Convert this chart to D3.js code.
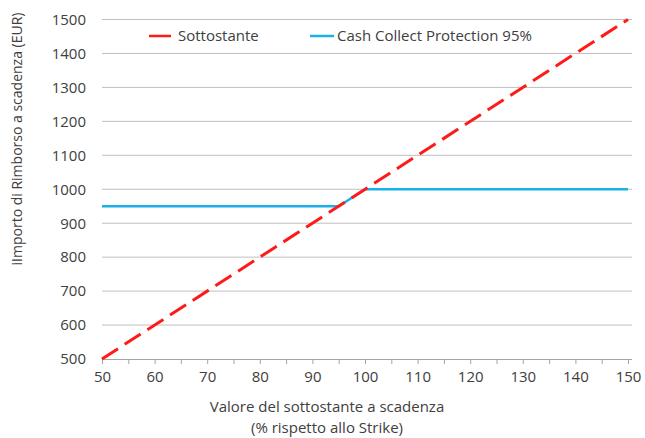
<!DOCTYPE html>
<html>
<head>
<meta charset="utf-8">
<script src="https://cdn.jsdelivr.net/npm/d3@7"></script>
<style>
  body { margin: 0; background: #fff; }
  svg text { font-family: "Open Sans", sans-serif; fill: #404040; }
</style>
</head>
<body>
<svg id="chart" width="645" height="438"></svg>
<script>
// data
var sottostanteX = [50, 150];
var sottostanteY = [500, 1500];
var cashCollectX = [50, 95, 100, 150];
var cashCollectY = [950, 950, 1000, 1000];
var xTicks = [50, 60, 70, 80, 90, 100, 110, 120, 130, 140, 150];
var xMinorTicks = [55, 65, 75, 85, 95, 105, 115, 125, 135, 145];
var yTicks = [500, 600, 700, 800, 900, 1000, 1100, 1200, 1300, 1400, 1500];
var seriesNames = ["Sottostante", "Cash Collect Protection 95%"];

var svg = d3.select("#chart");
var x = d3.scaleLinear().domain([50, 150]).range([102, 628]);
var y = d3.scaleLinear().domain([500, 1500]).range([359, 19.5]);

// gridlines
svg.append("g")
    .selectAll("line")
    .data(yTicks.slice(1))
    .enter().append("line")
    .attr("x1", x(50))
    .attr("x2", x(150) + 4)
    .attr("y1", function (d) { return y(d); })
    .attr("y2", function (d) { return y(d); })
    .attr("stroke", "#bfbfbf")
    .attr("stroke-width", 1);

// x axis
var xAxis = svg.append("g")
    .attr("transform", "translate(0," + y(500) + ")")
    .call(d3.axisBottom(x).tickValues(xTicks.concat(xMinorTicks)).tickSize(5).tickFormat(function (d) {
        return xTicks.indexOf(d) >= 0 ? d : "";
    }));
xAxis.select(".domain").attr("stroke", "#a6a6a6").attr("d", "M" + x(50) + ",0.5H" + (x(150) + 4));
xAxis.selectAll(".tick line").attr("stroke", "#a6a6a6");
xAxis.selectAll("text")
    .attr("y", 12)
    .style("font-size", "15px")
    .style("font-family", "Open Sans, sans-serif")
    .attr("fill", "#404040");

// y axis labels
var yAxis = svg.append("g")
    .attr("transform", "translate(" + x(50) + ",0)")
    .call(d3.axisLeft(y).tickValues(yTicks).tickSize(0).tickPadding(16).tickFormat(d3.format("d")));
yAxis.select(".domain").remove();
yAxis.selectAll("text")
    .style("font-size", "15px")
    .style("font-family", "Open Sans, sans-serif")
    .attr("fill", "#404040");

var line = d3.line()
    .x(function (d) { return x(d[0]); })
    .y(function (d) { return y(d[1]); });

// cash collect line
svg.append("path")
    .datum(d3.zip(cashCollectX, cashCollectY))
    .attr("d", line)
    .attr("fill", "none")
    .attr("stroke", "#1ab0e8")
    .attr("stroke-width", 2.5);

// sottostante line
svg.append("path")
    .datum(d3.zip(sottostanteX, sottostanteY))
    .attr("d", line)
    .attr("fill", "none")
    .attr("stroke", "#ff1a1a")
    .attr("stroke-width", 3)
    .attr("stroke-dasharray", "19,8");

// legend
var legend = svg.append("g");
var legendItems = [
    { name: seriesNames[0], color: "#ff1a1a", x1: 149, x2: 171, tx: 178 },
    { name: seriesNames[1], color: "#1ab0e8", x1: 310, x2: 334, tx: 337 }
];
legendItems.forEach(function (d) {
    legend.append("line")
        .attr("x1", d.x1).attr("x2", d.x2)
        .attr("y1", 36).attr("y2", 36)
        .attr("stroke", d.color)
        .attr("stroke-width", 2.5);
    legend.append("text")
        .attr("x", d.tx).attr("y", 41)
        .style("font-size", "15px")
        .text(d.name);
});

// axis titles
svg.append("text")
    .attr("transform", "translate(22,139) rotate(-90)")
    .attr("text-anchor", "middle")
    .style("font-size", "14px")
    .text("iImporto di Rimborso a scadenza  (EUR)");

svg.append("text")
    .attr("x", 327).attr("y", 412)
    .attr("text-anchor", "middle")
    .style("font-size", "15px")
    .text("Valore del sottostante a scadenza");
svg.append("text")
    .attr("x", 327).attr("y", 433)
    .attr("text-anchor", "middle")
    .style("font-size", "15px")
    .text("(% rispetto allo Strike)");
</script>
</body>
</html>
